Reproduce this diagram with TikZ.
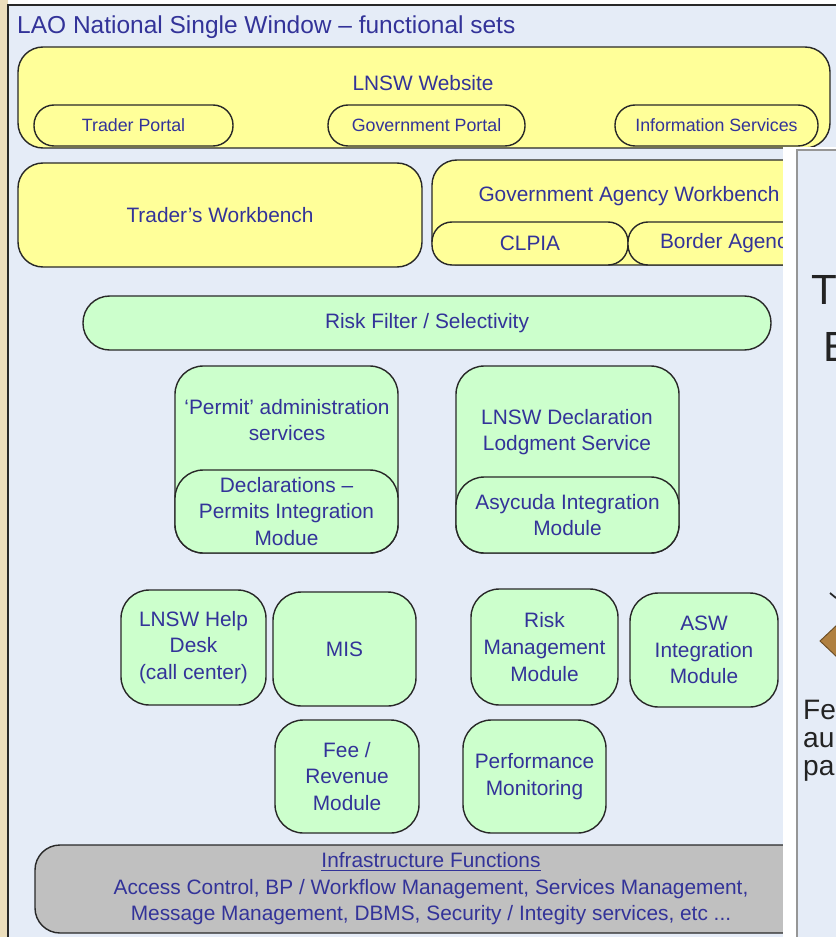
\documentclass[tikz,border=0pt]{standalone}
\usepackage{fontspec}
\setmainfont{Liberation Sans}
\usetikzlibrary{positioning}
\definecolor{panelblue}{RGB}{229,236,247}
\definecolor{frameedge}{RGB}{40,40,40}
\definecolor{webyellow}{RGB}{255,255,153}
\definecolor{modgreen}{RGB}{204,255,204}
\definecolor{infragrey}{RGB}{192,192,192}
\definecolor{labelblue}{RGB}{51,51,153}
\definecolor{sidebeige}{RGB}{236,222,188}
\definecolor{otheredge}{RGB}{150,150,150}
\definecolor{othertext}{RGB}{35,35,35}
\definecolor{iconbrown}{RGB}{176,128,64}
\tikzset{
    wh/.style 2 args = {
        minimum width=#1*0.3mm,
        minimum height=#2*0.3mm
    },
    setbox/.style = {
        align=center,
        inner sep=0pt,
        text centered,
        font=\fontsize{17.8}{22.8}\selectfont,
        text=labelblue,
        rectangle,
        draw=frameedge,
        line width=1.2pt,
        rounded corners=8.5mm
    },
    yellowbox/.style = {
        setbox,
        fill=webyellow,
        rounded corners=7.5mm
    },
    portal/.style = {
        yellowbox,
        rounded corners=6mm,
        font=\fontsize{15.2}{18}\selectfont
    },
    greenbox/.style = {
        setbox,
        fill=modgreen
    },
    infrabox/.style = {
        setbox,
        fill=infragrey,
        rounded corners=7.5mm
    },
    caption/.style = {
        align=center,
        inner sep=0pt,
        text=labelblue,
        font=\fontsize{17.8}{22.8}\selectfont
    },
    sidetext/.style = {
        anchor=west,
        inner sep=0pt,
        text=othertext,
        font=\fontsize{24}{24}\selectfont
    }
}

\begin{document}
\begin{tikzpicture}[x=0.3mm, y=-0.3mm]
    \useasboundingbox (0,0) rectangle (836,937);
    \clip (0,0) rectangle (836,937);
    % background panel
    \fill[white] (0,0) rectangle (836,937);
    \fill[sidebeige] (0,0) rectangle (8,937);
    \fill[panelblue] (8,5) rectangle (836,937);
    \draw[frameedge, line width=1.5pt] (8,937) -- (8,5) -- (836,5);
    \node[anchor=west, inner sep=0pt, text=labelblue, font=\fontsize{20.9}{24}\selectfont] (title) at (17,27) {LAO National Single Window – functional sets};

    % portals and workbenches
    \node[yellowbox, wh={812}{101}] (web) at (424,97.5) {};
    \node[caption] (webtxt) at (423,83) {LNSW Website};
    \node[portal, wh={199}{41}] (traderportal) at (133.5,125.5) {Trader Portal};
    \node[portal, wh={197}{41}] (govportal) at (426.5,125.5) {Government Portal};
    \node[portal, wh={203}{41}] (infoservices) at (716.5,125.5) {Information Services};

    \node[yellowbox, wh={404}{104}] (traderwb) at (220,215) {Trader's Workbench};
    \node[yellowbox, wh={398}{105}] (govwb) at (631,212.5) {};
    \node[caption] (govwbtxt) at (629,196) {Government Agency Workbench};
    \node[portal, wh={196}{43}, font=\fontsize{17.8}{22.8}\selectfont] (clpia) at (530,243.5) {CLPIA};
    \node[portal, wh={202}{43}, font=\fontsize{17.8}{22.8}\selectfont] (borderagency) at (729,243.5) {Border Agency};

    % processing modules
    \node[greenbox, wh={688}{54}, rounded corners=8mm] (riskfilter) at (427,323) {Risk Filter / Selectivity};

    \node[greenbox, wh={223}{187}] (permit) at (286.5,459.5) {};
    \node[caption] (permittxt) at (287,420) {‘Permit’ administration\\services};
    \node[greenbox, wh={223}{83}] (declpermits) at (286.5,511.5) {Declarations –\\Permits Integration\\Modue};

    \node[greenbox, wh={223}{187}] (lodgment) at (567.5,459.5) {};
    \node[caption] (lodgmenttxt) at (567,432) {LNSW Declaration\\Lodgment Service};
    \node[greenbox, wh={223}{76}] (asycuda) at (567.5,515) {Asycuda Integration\\Module};

    \node[greenbox, wh={145}{115}] (helpdesk) at (193.5,647.5) {LNSW Help\\Desk\\(call center)};
    \node[greenbox, wh={143}{114}] (mis) at (344.5,649) {MIS};
    \node[greenbox, wh={147}{116}] (riskmgmt) at (544.5,647) {Risk\\Management\\Module};
    \node[greenbox, wh={148}{114}] (asw) at (704,650) {ASW\\Integration\\Module};
    \node[greenbox, wh={144}{113}] (fee) at (347,776.5) {Fee /\\Revenue\\Module};
    \node[greenbox, wh={143}{113}] (perfmon) at (534.5,776.5) {Performance\\Monitoring};

    % infrastructure
    \node[infrabox, wh={792}{88}, font=\fontsize{17.8}{22.6}\selectfont] (infra) at (431,889) {\underline{Infrastructure Functions}\\Access Control, BP / Workflow Management, Services Management,\\Message Management, DBMS, Security / Integity services, etc ...};

    % window laid over the right side
    \fill[white] (783,147) rectangle (840,940);
    \fill[panelblue] (797,150) rectangle (840,940);
    \draw[otheredge, line width=1.2pt] (797,940) -- (797,150) -- (840,150);
    \node[sidetext, font=\fontsize{36}{36}\selectfont] (sideT) at (811,290) {T};
    \node[sidetext, font=\fontsize{36}{36}\selectfont] (sideE) at (823,347) {E};
    \filldraw[fill=iconbrown, draw=iconbrown!60!black, line width=0.8pt] (820,641) -- (838,624) -- (856,641) -- (838,658) -- cycle;
    \draw[frameedge, line width=1.5pt] (830,593) -- (836,598);
    \node[sidetext, align=left, font=\fontsize{24}{24}\selectfont] (sidewords) at (803,741) {Fe\\au\\pa};
\end{tikzpicture}
\end{document}
